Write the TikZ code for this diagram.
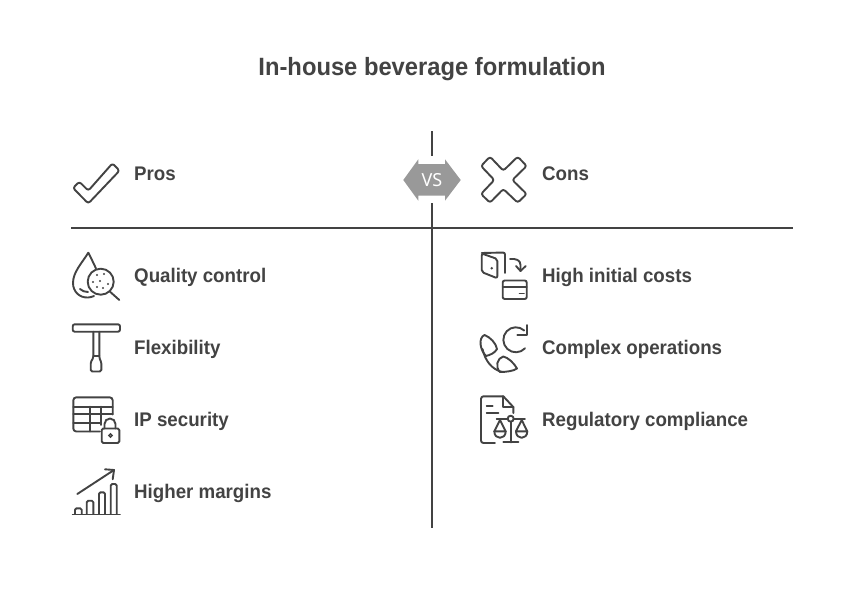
\documentclass[tikz,border=0pt]{standalone}
\usepackage{fontspec}
\setmainfont[FakeStretch=0.95]{Liberation Sans}
\newfontfamily\vsfont{Noto Sans}
\definecolor{ink}{HTML}{434343}
\definecolor{hexgray}{HTML}{999999}
\tikzset{
  lbl/.style={anchor=base west,inner sep=0pt,text=ink,font=\fontsize{19.7}{22}\selectfont\bfseries},
  ttl/.style={anchor=base,inner sep=0pt,text=ink,font=\fontsize{25}{28}\selectfont\bfseries},
  rule/.style={draw=ink,line width=2pt},
  ic/.style={draw=ink,line width=1.9pt,line join=round,line cap=round,fill=none},
  dot/.style={fill=ink,draw=none},
}
\begin{document}
\begin{tikzpicture}[x=1pt,y=-1pt]
\useasboundingbox (0,0) rectangle (864,613);
\fill[white] (0,0) rectangle (864,613);
% title
\node[ttl] (title) at (432,75) {In-house beverage formulation};
% dividers
\coordinate (vtop) at (432,131);
\coordinate (vmid1) at (432,156);
\coordinate (vmid2) at (432,203);
\coordinate (vbot) at (432,528);
\coordinate (hl) at (71,228);
\coordinate (hr) at (792.5,228);
\draw[rule] (vtop) -- (vmid1);
\draw[rule] (vmid2) -- (vbot);
\draw[rule] (hl) -- (hr);
% VS
\fill[hexgray] (403.3,180) -- (418.3,159.3) -- (418.3,164) -- (445,164) -- (445,159.3) -- (460.7,180)
  -- (445,200.7) -- (445,195.7) -- (418.3,195.7) -- (418.3,200.7) -- cycle;
\node[inner sep=0pt,text=white,font=\vsfont\fontsize{18}{20}\selectfont] (vs) at (432,180) {VS};
% labels
\node[lbl] (pros) at (134,180) {Pros};
\node[lbl] (cons) at (542,180) {Cons};
\node[lbl] (q) at (134,282) {Quality control};
\node[lbl] (f) at (134,354) {Flexibility};
\node[lbl] (ip) at (134,426) {IP security};
\node[lbl] (hm) at (134,498) {Higher margins};
\node[lbl] (hc) at (542,282) {High initial costs};
\node[lbl] (co) at (542,354) {Complex operations};
\node[lbl] (rc) at (542,426) {Regulatory compliance};
% check
\draw[ic,rounded corners=2.5pt] (73,188) -- (79.3,181.7) -- (88.3,190.7) -- (112.5,163.3) -- (119.5,170.7) -- (88.3,203.5) -- cycle;
% X
\draw[ic,rounded corners=2.5pt] (490,156.7) -- (503.3,170.7) -- (517.7,156.7) -- (526.7,166) -- (512.3,180) -- (526.7,194) -- (517.7,202.7) -- (503.3,189) -- (490,202.7) -- (481,194) -- (494.3,180) -- (481,166) -- cycle;
% drop + magnifier
\draw[ic] (96,268.5) .. controls (93,262) and (90,256) .. (88.3,252.7) .. controls (82,263) and (73,272) .. (73,283) .. controls (73,292) and (80,298) .. (88,297.5) .. controls (90,297.3) and (92,297) .. (94,296);
\draw[ic] (80,289) .. controls (82,291) and (85,292) .. (88,292);
\draw[ic] (100.7,281.7) circle (13);
\draw[ic] (110,291.7) -- (119.3,300);
\foreach \x/\y in {97/275,104/274,93/282,100/281,108/284,97/287,103/288}
  \fill[dot] (\x,\y) circle (1.1);
% T tool
\draw[ic,rounded corners=2pt] (72.7,324.3) rectangle (120,331.7);
\draw[ic,rounded corners=1.5pt] (93.3,331.7) -- (93.3,358) -- (90.7,362) -- (90.7,371.5) -- (101.3,371.5) -- (101.3,362) -- (99.3,358) -- (99.3,331.7);
\draw[ic] (93.3,356) -- (99.3,356);
% table + lock
\draw[ic,rounded corners=3pt] (100,431.5) -- (73.3,431.5) -- (73.3,397.3) -- (112.7,397.3) -- (112.7,414.5);
\draw[ic] (73.3,406.7) -- (112.7,406.7);
\draw[ic] (73.3,414.3) -- (112.7,414.3);
\draw[ic] (73.3,423.3) -- (100.7,423.3);
\draw[ic] (90,406.7) -- (90,431.5);
\draw[ic] (100.7,406.7) -- (100.7,425);
\draw[ic,rounded corners=1.5pt] (101.7,428.5) rectangle (119.3,443);
\draw[ic] (104.5,428.5) -- (104.5,424) arc[start angle=180,end angle=0,x radius=5.5,y radius=-5.5] -- (115.5,428.5);
\draw[draw=ink,line width=1.4pt] (110.5,435.5) circle (1.7);
% chart
\draw[ic] (72.7,514.5) -- (120,514.5);
\draw[ic,rounded corners=1.5pt] (75,514) -- (75,508.3) -- (81.7,508.3) -- (81.7,514);
\draw[ic,rounded corners=1.5pt] (86.7,514) -- (86.7,500.7) -- (93.3,500.7) -- (93.3,514);
\draw[ic,rounded corners=1.5pt] (99,514) -- (99,492.3) -- (105,492.3) -- (105,514);
\draw[ic,rounded corners=1.5pt] (110.7,514) -- (110.7,484) -- (116.7,484) -- (116.7,514);
\draw[ic] (77.3,494) -- (114,470);
\draw[ic] (105,469.3) -- (114,470) -- (112.7,479.3);
% door + arrow + card
\draw[ic,rounded corners=2pt] (481.7,253.5) -- (497.3,259) -- (497.3,278.3) -- (481.7,272) -- cycle;
\draw[ic,rounded corners=2pt] (481.7,253) -- (505,252.5) -- (505,273);
\fill[dot] (491.7,268.3) circle (1.4);
\draw[ic] (510,259) .. controls (516,258.5) and (520.5,260) .. (520.5,265) -- (520.5,271);
\draw[ic] (516,266) -- (520.5,271) -- (525.7,266);
\draw[ic,rounded corners=2pt] (502.7,280.5) rectangle (526.7,299);
\draw[ic] (502.7,286.7) -- (526.7,286.7);
\draw[ic] (519.5,293.5) -- (524,293.5);
% phone + cycle
\draw[ic] (525,348.3) arc[start angle=-43,end angle=-312,x radius=12.5,y radius=-12.5];
\draw[ic] (527.3,325) -- (527.3,335) -- (517.3,335);
\draw[ic] (484.5,335) .. controls (490,337) and (496,343) .. (497,349) .. controls (495,353) and (490,355) .. (486,356) .. controls (480,350) and (478,338) .. (484.5,335) -- cycle;
\draw[ic] (503.3,356.5) .. controls (508,357.5) and (514,363) .. (517,368.5) .. controls (514,371) and (506,372) .. (500,372) .. controls (495,367) and (497,358) .. (503.3,356.5) -- cycle;
\draw[ic] (482.5,349) .. controls (485,360) and (491,369) .. (502,372);
% document + scales
\draw[ic,rounded corners=2.5pt] (495,443) -- (481,443) -- (481,396.3) -- (503.3,396.3);
\draw[ic] (503.3,396.3) -- (513.3,407) -- (513.3,413);
\draw[ic] (503.3,396.3) -- (503.3,407) -- (513.3,407);
\draw[ic] (486.7,406.3) -- (492.7,406.3);
\draw[ic] (486.7,413) -- (498.3,413);
\draw[ic] (496.7,419) -- (507.5,419);
\draw[ic] (514,419) -- (525,419);
\draw[ic] (510.7,418.7) circle (3);
\draw[ic] (510.7,421.7) -- (510.7,442.3);
\draw[ic] (503.3,442.3) -- (518.3,442.3);
\draw[ic] (494.3,431.3) -- (500,420) -- (505.7,431.3) -- cycle;
\draw[ic] (494.3,431.3) .. controls (494.3,440) and (505.7,440) .. (505.7,431.3);
\draw[ic] (516,431.3) -- (521.7,420) -- (527.3,431.3) -- cycle;
\draw[ic] (516,431.3) .. controls (516,440) and (527.3,440) .. (527.3,431.3);
\end{tikzpicture}
\end{document}
